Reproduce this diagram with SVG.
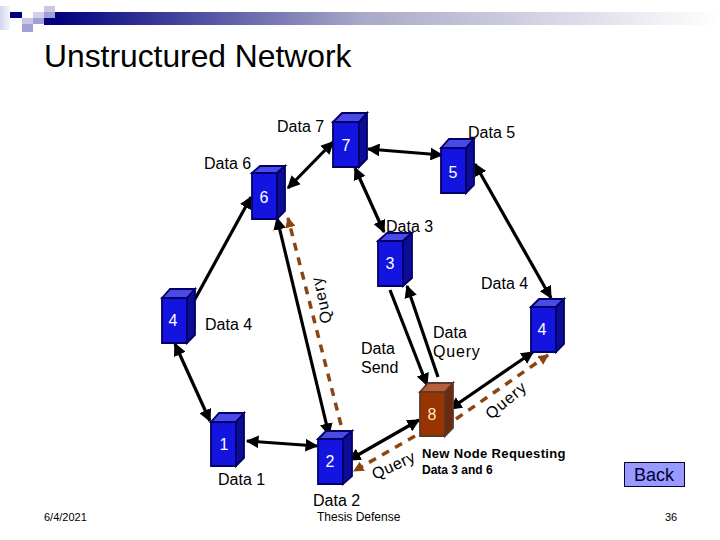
<svg xmlns="http://www.w3.org/2000/svg" width="720" height="540" viewBox="0 0 720 540">
<defs>
<linearGradient id="bar" x1="0" y1="0" x2="1" y2="0"><stop offset="0" stop-color="#000080"/><stop offset="0.46" stop-color="#a8a8c8"/><stop offset="1" stop-color="#ffffff"/></linearGradient>
<linearGradient id="fade" x1="0" y1="0" x2="1" y2="0"><stop offset="0" stop-color="#d4d4ec"/><stop offset="1" stop-color="#f6f6fc"/></linearGradient>
<marker id="a" viewBox="0 0 10 10" refX="9" refY="5" markerWidth="4" markerHeight="4" orient="auto-start-reverse"><path d="M0 0L10 5L0 10z" fill="#000"/></marker>
<marker id="b" viewBox="0 0 10 10" refX="9" refY="5" markerWidth="3" markerHeight="3" orient="auto-start-reverse"><path d="M0 0L10 5L0 10z" fill="#8b4513"/></marker>
</defs>
<style>
text{font-family:"Liberation Sans",Arial,sans-serif;fill:#000}
.l{font-size:16px}
.n{font-size:16px;fill:#fff;text-anchor:middle}
.c{stroke:#000;stroke-width:3.200;fill:none;marker-start:url(#a);marker-end:url(#a)}
.e{marker-start:none}
.d{stroke:#8b4513;stroke-width:3.500;fill:none;stroke-dasharray:8 7}
.f{fill:#1414e0;stroke:#000066;stroke-width:1.800}
.t{fill:#4a4ae6;stroke:#000066;stroke-width:1.800}
.s{fill:#0c0c96;stroke:#000066;stroke-width:1.800}
</style>
<rect width="720" height="540" fill="#fff"/>
<g id="template">
<rect x="55" y="12" width="665" height="13" fill="url(#bar)"/>
<rect x="0" y="6" width="10" height="24" fill="url(#fade)"/>
<rect x="10" y="12" width="12" height="6" fill="#000080"/>
<rect x="22" y="18" width="11" height="6" fill="#c8c8e4"/>
<rect x="22" y="24" width="11" height="8" fill="#a0a0d4"/>
<rect x="33" y="12" width="11" height="6" fill="#d0d0ea"/>
<rect x="33" y="18" width="11" height="6" fill="#a0a0d4"/>
<rect x="44" y="6" width="11" height="6" fill="#c8c8e4"/>
<rect x="44" y="12" width="11" height="6" fill="#a0a0d4"/>
<rect x="44" y="18" width="11" height="7" fill="#000080"/>
</g>
<text x="44" y="67" font-size="31.800px">Unstructured Network</text>
<g id="connectors">
<path class="c" d="M333 142L288 188"/>
<path class="c" d="M368 149L442 155"/>
<path class="c" d="M355 168L384 232"/>
<path class="c" d="M475 164L551 298"/>
<path class="c e" d="M189 310L251 197"/>
<path class="c" d="M277 218L329 435"/>
<path class="c" d="M175 344L210 421"/>
<path class="c" d="M247 441L317 446"/>
<path class="c e" d="M390 290L427 385"/>
<path class="c e" d="M438 377L407 286"/>
<path class="c" d="M533 352L450 409"/>
<path class="c" d="M419 420L349 460"/>
<path class="d" d="M341 425L288 218" marker-end="url(#b)"/>
<path class="d" d="M456 419L548 355" marker-end="url(#b)"/>
<path class="d" d="M415 436L354 471" marker-end="url(#b)"/>
</g>
<g id="node7"><path class="f" d="M333 122h26v45h-26z"/><path class="t" d="M333 122l9-9h25l-8 9z"/><path class="s" d="M359 122l8-9v46l-8 8z"/><text class="n" x="346" y="151">7</text></g>
<g id="node6"><path class="f" d="M252 173h25v46h-25z"/><path class="t" d="M252 173l8-7h25l-8 7z"/><path class="s" d="M277 173l8-7v45l-8 8z"/><text class="n" x="264" y="203">6</text></g>
<g id="node5"><path class="f" d="M441 148h25v45h-25z"/><path class="t" d="M441 148l8-9h25l-8 9z"/><path class="s" d="M466 148l8-9v46l-8 8z"/><text class="n" x="453" y="178">5</text></g>
<g id="node3"><path class="f" d="M378 241h25v45h-25z"/><path class="t" d="M378 241l9-8h25l-9 8z"/><path class="s" d="M403 241l9-8v45l-9 8z"/><text class="n" x="390" y="269">3</text></g>
<g id="node4a"><path class="f" d="M162 298h25v45h-25z"/><path class="t" d="M162 298l8-9h25l-8 9z"/><path class="s" d="M187 298l8-9v46l-8 8z"/><text class="n" x="173" y="326">4</text></g>
<g id="node4b"><path class="f" d="M531 307h25v45h-25z"/><path class="t" d="M531 307l8-8h25l-8 8z"/><path class="s" d="M556 307l8-8v45l-8 8z"/><text class="n" x="542" y="335">4</text></g>
<g id="node8"><path d="M420 392h25v44h-25z" fill="#993300" stroke="#5a3a28" stroke-width="1.800"/><path d="M420 392l8-9h25l-8 9z" fill="#b8603a" stroke="#5a3a28" stroke-width="1.800"/><path d="M445 392l8-9v45l-8 8z" fill="#6b2a10" stroke="#5a3a28" stroke-width="1.800"/><text x="432" y="420" text-anchor="middle" font-size="16px" style="fill:#ffe8c0">8</text></g>
<g id="node1"><path class="f" d="M211 422h25v44h-25z"/><path class="t" d="M211 422l8-9h25l-8 9z"/><path class="s" d="M236 422l8-9v45l-8 8z"/><text class="n" x="224" y="450">1</text></g>
<g id="node2"><path class="f" d="M318 439h25v45h-25z"/><path class="t" d="M318 439l8-8h26l-9 8z"/><path class="s" d="M343 439l9-8v45l-9 8z"/><text class="n" x="330" y="467">2</text></g>
<g id="labels">
<text class="l" x="277" y="132">Data 7</text>
<text class="l" x="204" y="169">Data 6</text>
<text class="l" x="468" y="138">Data 5</text>
<text class="l" x="386" y="232">Data 3</text>
<text class="l" x="481" y="289">Data 4</text>
<text class="l" x="205" y="330">Data 4</text>
<text class="l" x="361" y="354">Data</text>
<text class="l" x="361" y="373">Send</text>
<text class="l" x="433" y="338">Data</text>
<text class="l" x="433" y="357" letter-spacing="0.8">Query</text>
<text class="l" x="218" y="485">Data 1</text>
<text class="l" x="313" y="506">Data 2</text>
<text class="l" transform="translate(332 322) rotate(-103)" letter-spacing="0.800">Query</text>
<text class="l" transform="translate(491 420) rotate(-40)" letter-spacing="1">Query</text>
<text class="l" transform="translate(375 480) rotate(-25)" letter-spacing="0.500">Query</text>
<text x="422" y="458" font-size="13px" font-weight="bold" letter-spacing="0.350">New Node Requesting</text>
<text x="422" y="474" font-size="12px" font-weight="bold">Data 3 and 6</text>
<text x="317" y="521" font-size="12px">Thesis Defense</text>
<text x="44" y="521" font-size="11px">6/4/2021</text>
<text x="665" y="521" font-size="11px">36</text>
</g>
<g id="back"><rect x="624.500" y="462.500" width="60" height="24" fill="#9999ff" stroke="#000033" stroke-width="1"/><text x="654" y="481" font-size="18px" text-anchor="middle" style="fill:#000033">Back</text></g>
</svg>
